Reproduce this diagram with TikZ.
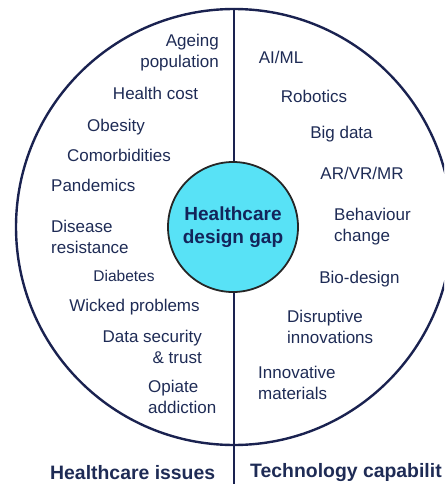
\documentclass[tikz,border=0pt]{standalone}
\usepackage{fontspec}
\setmainfont{Liberation Sans}
\usetikzlibrary{positioning}
\definecolor{navyline}{RGB}{26,34,80}
\definecolor{navytext}{RGB}{30,43,85}
\definecolor{gapcyan}{RGB}{88,226,246}
\definecolor{gaptext}{RGB}{19,36,90}

\tikzset{
  item/.style={inner sep=0pt, text=navytext, font=\fontsize{17}{21}\selectfont},
  smallitem/.style={inner sep=0pt, text=navytext, font=\fontsize{15.5}{19}\selectfont},
  heading/.style={inner sep=0pt, text=navytext, font=\fontsize{19.4}{23}\selectfont\bfseries}
}

\begin{document}
\begin{tikzpicture}[x=1pt, y=-1pt]
    \useasboundingbox (0,0) rectangle (444,484);
    \clip (0,0) rectangle (444,484);

    % Outer circle and split line
    \coordinate (top) at (234,8);
    \coordinate (bottom) at (234,484);
    \draw[navyline, line width=2.4pt] (234,227) circle (218);
    \draw[navyline, line width=2.2pt] (top) -- (bottom);

    % Centre
    \node[circle, draw=black!85, fill=gapcyan, line width=1.8pt, minimum size=130pt, inner sep=0pt,
          align=center, text=gaptext, font=\fontsize{19}{23}\selectfont\bfseries] (gap) at (233,227) {Healthcare\\design gap};

    % Healthcare issues
    \node[item, anchor=east, align=right] (ageing) at (219,52.5) {Ageing\\population};
    \node[item] (cost) at (155.5,93) {Health cost};
    \node[item] (obesity) at (116,127) {Obesity};
    \node[item] (comorbid) at (119,155) {Comorbidities};
    \node[item, anchor=west] (pandemics) at (51,185) {Pandemics};
    \node[item, anchor=west, align=left] (disease) at (51,236.5) {Disease\\resistance};
    \node[smallitem] (diabetes) at (124,276) {Diabetes};
    \node[item] (wicked) at (134.5,307) {Wicked problems};
    \node[item, anchor=east, align=right] (datasec) at (202,347) {Data security\\\& trust};
    \node[item, anchor=west, align=left] (opiate) at (148,396.5) {Opiate\\addiction};

    % Technology capabilities
    \node[item] (aiml) at (281,57) {AI/ML};
    \node[item] (robotics) at (314,96) {Robotics};
    \node[item] (bigdata) at (341.5,134) {Big data};
    \node[item] (arvr) at (362,173) {AR/VR/MR};
    \node[item, anchor=west, align=left] (behaviour) at (334,227) {Behaviour\\change};
    \node[item] (biodesign) at (359.5,279) {Bio-design};
    \node[item, anchor=west, align=left] (disruptive) at (287,326.5) {Disruptive\\innovations};
    \node[item, anchor=west, align=left] (innovative) at (258,383) {Innovative\\materials};

    % Headings
    \node[heading, anchor=west] (issues) at (50,473) {Healthcare issues};
    \node[heading, anchor=west] (techcap) at (250,473) {Technology capabilit};
\end{tikzpicture}
\end{document}
